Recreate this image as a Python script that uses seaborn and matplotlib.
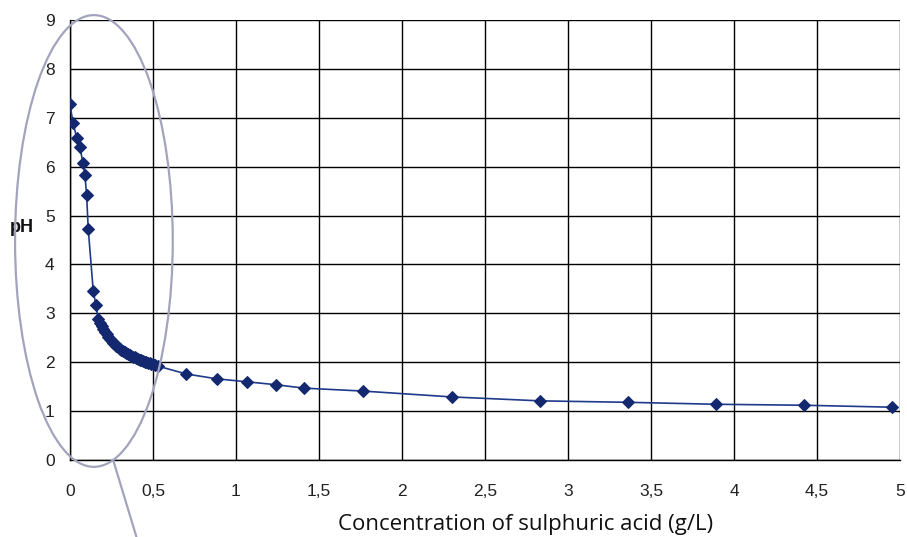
import matplotlib
matplotlib.use("Agg")
import matplotlib.pyplot as plt
import seaborn as sns
import pandas as pd
from matplotlib.patches import Ellipse
from matplotlib.ticker import FuncFormatter

# Titration data: concentration (g/L) vs pH
conc = [0.0, 0.018, 0.042, 0.06, 0.078, 0.09, 0.10, 0.11, 0.14, 0.156,
        0.17, 0.18, 0.19, 0.20, 0.21, 0.22, 0.23, 0.24, 0.25, 0.26, 0.27,
        0.28, 0.29, 0.30, 0.31, 0.32, 0.33, 0.34, 0.35, 0.36, 0.37, 0.38,
        0.39, 0.40, 0.41, 0.42, 0.43, 0.44, 0.45, 0.46, 0.47, 0.48, 0.49,
        0.50, 0.51, 0.53,
        0.70, 0.885, 1.065, 1.24, 1.41, 1.765, 2.30, 2.83, 3.36, 3.89, 4.42, 4.95]
ph = [7.28, 6.89, 6.58, 6.40, 6.07, 5.83, 5.42, 4.72, 3.46, 3.17,
      2.88, 2.81, 2.75, 2.68, 2.62, 2.57, 2.52, 2.48, 2.44, 2.40, 2.37,
      2.34, 2.31, 2.28, 2.26, 2.23, 2.21, 2.19, 2.17, 2.15, 2.13, 2.11,
      2.10, 2.08, 2.07, 2.05, 2.04, 2.02, 2.01, 2.00, 1.99, 1.98, 1.97,
      1.96, 1.94, 1.92,
      1.76, 1.66, 1.60, 1.54, 1.47, 1.41, 1.29, 1.21, 1.18, 1.14, 1.12, 1.08]

x_ticks = [0, 0.5, 1, 1.5, 2, 2.5, 3, 3.5, 4, 4.5, 5]
y_ticks = list(range(0, 10))

df = pd.DataFrame({"conc": conc, "ph": ph})

sns.set_style("white")
plt.rcParams["font.family"] = ["Liberation Sans", "DejaVu Sans"]

fig = plt.figure(figsize=(9.07, 5.37), dpi=100)
ax = fig.add_axes([70 / 907, 77 / 537, 830 / 907, 440 / 537])

sns.lineplot(data=df, x="conc", y="ph", ax=ax, color="#1f3a8a", linewidth=1.2,
             marker="D", markersize=6.5, markerfacecolor="#13286e",
             markeredgecolor="#13286e", sort=False, zorder=3)

ax.set_xlim(0, 5)
ax.set_ylim(0, 9)
ax.set_xticks(x_ticks)
ax.set_yticks(y_ticks)
ax.xaxis.set_major_formatter(FuncFormatter(lambda v, p: f"{v:g}".replace(".", ",")))
ax.grid(True, color="black", linewidth=1.0)
ax.set_axisbelow(True)
for side in ["left", "bottom"]:
    ax.spines[side].set_color("black")
    ax.spines[side].set_linewidth(1.0)
for side in ["top", "right"]:
    ax.spines[side].set_visible(False)
ax.tick_params(axis="both", direction="out", length=5, width=1, color="black",
               labelsize=12.5, labelcolor="#222222", pad=6)
ax.tick_params(axis="x", pad=12)

ax.set_ylabel("pH", rotation=0, fontsize=13, fontweight="bold", color="#111111")
ax.yaxis.set_label_coords(-0.058, 0.51)
ax.set_xlabel("Concentration of sulphuric acid (g/L)", fontsize=16,
              fontfamily="Open Sans", color="#111111")
ax.xaxis.set_label_coords(0.549, -0.122)

# Highlight ellipse around the steep part of the curve, with a pointer line
ell = Ellipse((0.144, 4.48), 0.95, 9.24, fill=False, edgecolor="#a3a3bd",
              linewidth=1.6, clip_on=False, zorder=4)
ax.add_patch(ell)
ax.plot([0.26, 0.40], [0.0, -1.57], color="#a3a3bd", linewidth=1.6,
        clip_on=False, zorder=4)

fig.savefig("out.png", dpi=100)
